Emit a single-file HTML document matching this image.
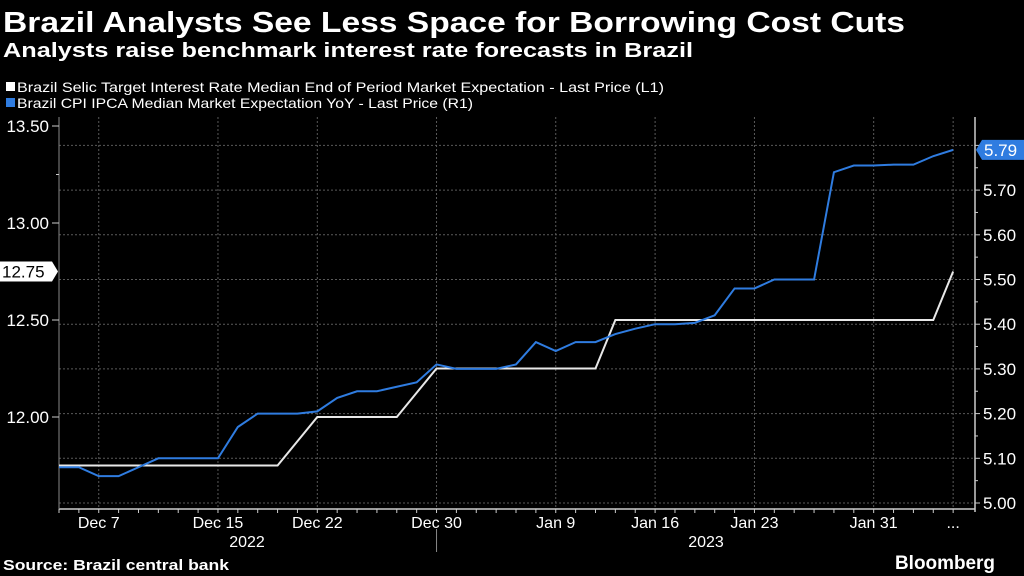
<!DOCTYPE html>
<html><head><meta charset="utf-8"><style>
html,body{margin:0;padding:0;background:#000;}
svg{display:block;font-family:"Liberation Sans",sans-serif;}
</style></head><body>
<svg id="chart" width="1024" height="576" viewBox="0 0 1024 576" xmlns="http://www.w3.org/2000/svg">
<rect width="1024" height="576" fill="#000"/>
<text x="3" y="32" fill="#fff" font-weight="bold" font-size="29" textLength="902" lengthAdjust="spacingAndGlyphs">Brazil Analysts See Less Space for Borrowing Cost Cuts</text>
<text x="3" y="57" fill="#fff" font-weight="bold" font-size="20" textLength="690" lengthAdjust="spacingAndGlyphs">Analysts raise benchmark interest rate forecasts in Brazil</text>
<g>
<rect x="6" y="82" width="9" height="9" fill="#fff"/>
<text x="17" y="92" fill="#fff" font-size="14" textLength="647" lengthAdjust="spacingAndGlyphs">Brazil Selic Target Interest Rate Median End of Period Market Expectation - Last Price (L1)</text>
</g>
<g>
<rect x="6" y="98" width="9" height="9" fill="#2f7ce0"/>
<text x="17" y="108" fill="#fff" font-size="14" textLength="456" lengthAdjust="spacingAndGlyphs">Brazil CPI IPCA Median Market Expectation YoY - Last Price (R1)</text>
</g>
<g id="grid"></g>
<g id="axes"></g>
<g id="series"></g>
<g id="tags"></g>
<text x="3" y="570" fill="#fff" font-weight="bold" font-size="15" textLength="226" lengthAdjust="spacingAndGlyphs">Source: Brazil central bank</text>
<text x="895" y="569" fill="#fff" font-weight="bold" font-size="19" textLength="100" lengthAdjust="spacingAndGlyphs">Bloomberg</text>
</svg>
<script>
const dateLabels = ["Dec 7","Dec 15","Dec 22","Dec 30","Jan 9","Jan 16","Jan 23","Jan 31","..."];
const dateLabelIdx = [2,8,13,19,25,30,35,41,45];
const yearLabels = ["2022","2023"];
const selic = [11.75,11.75,11.75,11.75,11.75,11.75,11.75,11.75,11.75,11.75,11.75,11.75,11.875,12.0,12.0,12.0,12.0,12.0,12.125,12.25,12.25,12.25,12.25,12.25,12.25,12.25,12.25,12.25,12.5,12.5,12.5,12.5,12.5,12.5,12.5,12.5,12.5,12.5,12.5,12.5,12.5,12.5,12.5,12.5,12.5,12.75];
const ipca = [5.08,5.08,5.06,5.06,5.08,5.10,5.10,5.10,5.10,5.17,5.20,5.20,5.20,5.205,5.235,5.25,5.25,5.26,5.27,5.31,5.30,5.30,5.30,5.31,5.36,5.34,5.36,5.36,5.378,5.39,5.40,5.40,5.403,5.42,5.48,5.48,5.50,5.50,5.50,5.74,5.755,5.755,5.757,5.757,5.776,5.79];
const leftTicks = [12.00,12.50,13.00,13.50];
const rightTicks = [5.00,5.10,5.20,5.30,5.40,5.50,5.60,5.70,5.80];

const NS="http://www.w3.org/2000/svg";
const X0=59, STEP=19.87, XR=975, YB=509, YT=117;
const xs = i => X0 + i*STEP;
const yL = v => 417 - (v-12)*194;
const yR = v => 503 - (v-5)*447;
function mk(tag, attrs, parent){const e=document.createElementNS(NS,tag);for(const k in attrs)e.setAttribute(k,attrs[k]);parent.appendChild(e);return e;}
const grid=document.getElementById('grid'), axes=document.getElementById('axes'), series=document.getElementById('series'), tags=document.getElementById('tags');

rightTicks.forEach(v=>{
  if(v>5.0){const l=mk('line',{x1:X0,x2:XR,y1:yR(v),y2:yR(v),stroke:'#5a5a5a','stroke-dasharray':'2,2','stroke-width':1},grid);
  
  }
  else {const l=mk('line',{x1:X0,x2:XR,y1:yR(v),y2:yR(v),stroke:'#5a5a5a','stroke-dasharray':'2,2','stroke-width':1},grid);
  
  }
  if(v<5.8){const t=mk('text',{x:XR+8,y:yR(v)+6,fill:'#fff','font-size':17},axes);t.textContent=v.toFixed(2);
  
  }
  mk('line',{x1:XR,x2:XR+5,y1:yR(v),y2:yR(v),stroke:'#ccc'},axes);
});
for(let v=5.05;v<5.8;v+=0.1){mk('line',{x1:XR,x2:XR+3,y1:yR(v),y2:yR(v),stroke:'#ccc'},axes);}
dateLabelIdx.forEach((i,k)=>{
  if(k<dateLabelIdx.length-1||true){const l=mk('line',{x1:xs(i),x2:xs(i),y1:YT,y2:YB,stroke:'#5a5a5a','stroke-dasharray':'2,2'},grid);
  
  }
  const t=mk('text',{x:xs(i),y:528,fill:'#fff','font-size':16,'text-anchor':'middle'},axes);t.textContent=dateLabels[k];
  
  
});
for(let i=0;i<selic.length;i++){mk('line',{x1:xs(i),x2:xs(i),y1:YB,y2:YB+4,stroke:'#ccc'},axes);}
mk('line',{x1:X0,x2:XR,y1:YB,y2:YB,stroke:'#ccc','stroke-width':1.5},axes);
mk('line',{x1:X0,x2:X0,y1:YT,y2:YB,stroke:'#888'},axes);
mk('line',{x1:XR,x2:XR,y1:YT,y2:YB+3,stroke:'#ccc','stroke-width':1.5},axes);
mk('line',{x1:xs(19),x2:xs(19),y1:YB+20,y2:552,stroke:'#888'},axes);
[[247,yearLabels[0]],[706,yearLabels[1]]].forEach(([x,s])=>{const t=mk('text',{x:x,y:547,fill:'#fff','font-size':16,'text-anchor':'middle'},axes);t.textContent=s;
  
  });
leftTicks.forEach(v=>{
  const t=mk('text',{x:49,y:yL(v)+6,fill:'#fff','font-size':17,'text-anchor':'end'},axes);t.textContent=v.toFixed(2);
  
  
  mk('line',{x1:52,x2:X0,y1:yL(v),y2:yL(v),stroke:'#ccc'},axes);
});
mk('line',{x1:56,x2:X0,y1:yL(13.25),y2:yL(13.25),stroke:'#ccc'},axes);

const pw=mk('polyline',{points:selic.map((v,i)=>xs(i)+','+yL(v)).join(' '),fill:'none',stroke:'#e8e8e8','stroke-width':2},series);


const pb=mk('polyline',{points:ipca.map((v,i)=>xs(i)+','+yR(v)).join(' '),fill:'none',stroke:'#2f7ce0','stroke-width':2},series);



const lv=selic[selic.length-1], ly=yL(lv);
const tw=mk('polygon',{points:`0,${ly-10} 52,${ly-10} 58,${ly} 52,${ly+10} 0,${ly+10}`,fill:'#fff'},tags);


const twt=mk('text',{x:2,y:ly+6,fill:'#000','font-size':17},tags);twt.textContent=lv.toFixed(2);
const rv=ipca[ipca.length-1], ry=yR(rv);
const tb=mk('polygon',{points:`976,${ry} 982,${ry-10} 1024,${ry-10} 1024,${ry+10} 982,${ry+10}`,fill:'#2f7ce0'},tags);


const tbt=mk('text',{x:984,y:ry+6,fill:'#fff','font-size':17},tags);tbt.textContent=rv.toFixed(2);
</script>
</body></html>
